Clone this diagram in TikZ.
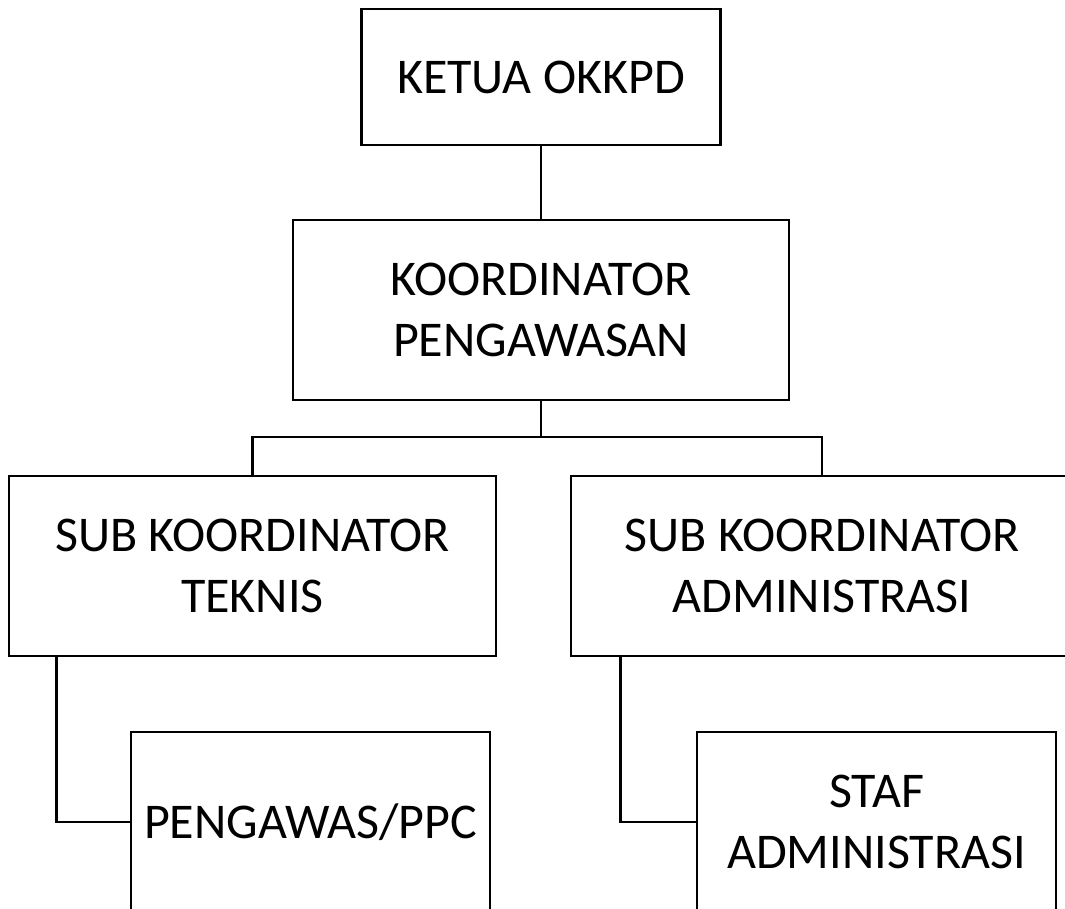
\documentclass[tikz,border=0pt]{standalone}
\usepackage{fontspec}
\setmainfont{Carlito}
\begin{document}
\begin{tikzpicture}[x=1pt,y=-1pt,
  orgbox/.style={draw=black,line width=2.6pt,fill=white,align=center,inner sep=0pt,
    font=\fontsize{50}{61}\selectfont,text=black},
  link/.style={draw=black,line width=2.6pt}]
\useasboundingbox (0,0) rectangle (1065,909);
\clip (0,0) rectangle (1065,909);
\fill[white] (0,0) rectangle (1065,909);
\node[orgbox,minimum width=359pt,minimum height=136pt] (ketua) at (541,77) {KETUA OKKPD};
\node[orgbox,minimum width=496pt,minimum height=180pt] (koord) at (541,310) {KOORDINATOR\\PENGAWASAN};
\node[orgbox,minimum width=487pt,minimum height=180pt] (subt) at (252.5,566) {SUB KOORDINATOR\\TEKNIS};
\node[orgbox,minimum width=502pt,minimum height=180pt] (suba) at (822,566) {SUB KOORDINATOR\\ADMINISTRASI};
\node[orgbox,minimum width=359pt,minimum height=180pt] (ppc) at (310.5,822) {PENGAWAS/PPC};
\node[orgbox,minimum width=359pt,minimum height=180pt] (staf) at (876.5,822) {STAF\\ADMINISTRASI};
\coordinate (split) at (541,437);
\draw[link] (ketua.south) -- (koord.north);
\draw[link] (koord.south) -- (split);
\draw[link] (split) -| (subt.north);
\draw[link] (split) -| (suba.north);
\draw[link] ([xshift=49pt]subt.south west) |- (ppc.west);
\draw[link] ([xshift=51pt]suba.south west) |- (staf.west);
\end{tikzpicture}
\end{document}
